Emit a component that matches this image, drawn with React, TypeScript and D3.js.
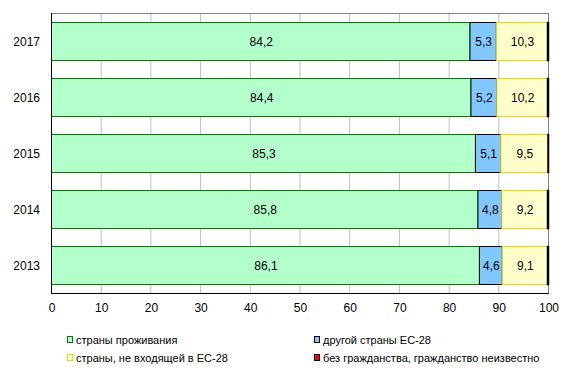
import React, { useEffect, useRef } from 'react';
import * as d3 from 'd3';

// годы (сверху вниз)
const years = ['2017', '2016', '2015', '2014', '2013'];
const residence = [84.2, 84.4, 85.3, 85.8, 86.1];
const otherEu = [5.3, 5.2, 5.1, 4.8, 4.6];
const nonEu = [10.3, 10.2, 9.5, 9.2, 9.1];
const stateless = [0.2, 0.2, 0.1, 0.2, 0.2];
const ticks = [0, 10, 20, 30, 40, 50, 60, 70, 80, 90, 100];

const seriesNames = [
  'страны проживания',
  'другой страны ЕС-28',
  'страны, не входящей в ЕС-28',
  'без гражданства, гражданство неизвестно',
];
const fills = ['#b3ffcc', '#80c8ff', '#ffffcc', '#ff0000'];
const strokes = ['#008000', '#000000', '#ffcc00', '#000000'];

const App = () => {
  const ref = useRef<SVGSVGElement>(null);

  useEffect(() => {
    const svg = d3.select(ref.current);
    svg.selectAll('*').remove();
    const font = 'Arial, "Liberation Sans", sans-serif';

    const x = d3.scaleLinear().domain([0, 100]).range([51, 548]);
    const y = d3.scaleBand().domain(years).range([13, 293]).paddingInner(18 / 56).paddingOuter(9 / 56);
    const band = d3.scaleBand().domain(years).range([13, 293]);

    // сетка
    svg.append('g')
      .selectAll('line')
      .data(ticks.slice(1))
      .enter()
      .append('line')
      .attr('x1', d => x(d) + 0.5)
      .attr('x2', d => x(d) + 0.5)
      .attr('y1', 13)
      .attr('y2', 293)
      .attr('stroke', '#c0c0c0');

    svg.append('line')
      .attr('x1', 51).attr('x2', 548).attr('y1', 13.5).attr('y2', 13.5)
      .attr('stroke', '#808080');
    svg.append('line')
      .attr('x1', 548.5).attr('x2', 548.5).attr('y1', 13).attr('y2', 293)
      .attr('stroke', '#808080');

    const series = [residence, otherEu, nonEu, stateless];
    years.forEach((yr, i) => {
      let acc = 0;
      series.forEach((s, k) => {
        const v = s[i];
        const x0 = x(acc);
        const x1 = x(acc + v);
        acc += v;
        svg.append('rect')
          .attr('x', x0 + 0.5)
          .attr('y', (y(yr) as number) + 0.5)
          .attr('width', Math.max(x1 - x0, 0.5))
          .attr('height', y.bandwidth())
          .attr('fill', fills[k])
          .attr('stroke', strokes[k])
          .attr('stroke-width', k === 3 ? 1.5 : 1);
        if (k < 3) {
          svg.append('text')
            .attr('x', (x0 + x1) / 2 + 1)
            .attr('y', (y(yr) as number) + y.bandwidth() / 2 + 5)
            .attr('text-anchor', 'middle')
            .attr('font-family', font)
            .attr('font-size', 12)
            .text(d3.format('.1f')(v).replace('.', ','));
        }
      });
    });

    // оси
    svg.append('line')
      .attr('x1', 51.5).attr('x2', 51.5).attr('y1', 13).attr('y2', 293)
      .attr('stroke', '#000');
    svg.append('line')
      .attr('x1', 51).attr('x2', 549).attr('y1', 293.5).attr('y2', 293.5)
      .attr('stroke', '#000');

    svg.append('g')
      .selectAll('text')
      .data(ticks)
      .enter()
      .append('text')
      .attr('x', d => x(d) + 1)
      .attr('y', 312)
      .attr('text-anchor', 'middle')
      .attr('font-family', font)
      .attr('font-size', 12)
      .text(d => d);

    svg.append('g')
      .selectAll('text')
      .data(years)
      .enter()
      .append('text')
      .attr('x', 40)
      .attr('y', d => (band(d) as number) + band.bandwidth() / 2 + 5)
      .attr('text-anchor', 'end')
      .attr('font-family', font)
      .attr('font-size', 12)
      .text(d => d);

    // легенда
    const legendPos = [
      [67, 340],
      [314, 340],
      [67, 358],
      [314, 358],
    ];
    seriesNames.forEach((name, k) => {
      const [lx, ly] = legendPos[k];
      svg.append('rect')
        .attr('x', lx + 0.5)
        .attr('y', ly - 3.5)
        .attr('width', 5)
        .attr('height', 6)
        .attr('fill', fills[k])
        .attr('stroke', k === 3 ? '#000' : strokes[k]);
      svg.append('text')
        .attr('x', lx + 9)
        .attr('y', ly + 4)
        .attr('font-family', font)
        .attr('font-size', 11)
        .text(name);
    });
  }, []);

  return (
    <svg
      ref={ref}
      width={573}
      height={373}
      style={{ position: 'absolute', left: 0, top: 0, background: '#fff' }}
    />
  );
};

export default App;
